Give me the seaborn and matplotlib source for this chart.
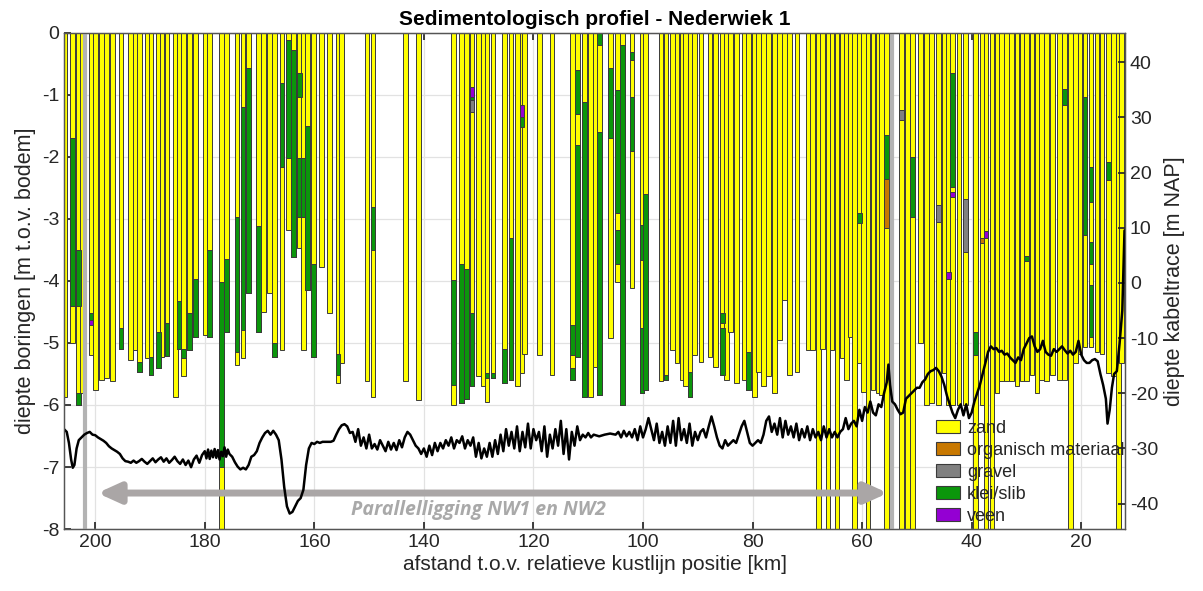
import numpy as np
import pandas as pd
import matplotlib
matplotlib.use("Agg")
import matplotlib.pyplot as plt
import seaborn as sns
from matplotlib.patches import Patch

# ---------------- data ----------------
# boring positions [km] and bottom depth [m t.o.v. bodem]; -9 = reaches beyond plot bottom
boring_km = [205.5, 204.1, 203.0, 202.3, 200.8, 199.9, 198.8, 197.9, 196.8, 195.3,
             193.6, 192.7, 191.9, 190.5, 189.8, 188.4, 187.8, 186.9, 185.4, 184.7,
             183.9, 182.8, 181.7, 179.9, 179.1, 176.9, 176.0, 174.1, 173.0, 172.0,
             170.2, 169.3, 168.2, 167.3, 165.9, 164.7, 163.8, 162.7, 162.0, 161.2,
             160.2, 158.7, 157.2, 155.7, 155.0, 150.4, 149.3, 143.4, 141.0, 134.6,
             133.1, 132.2, 131.2, 130.0, 129.1, 128.5, 127.4, 125.3, 124.1, 122.9,
             122.1, 121.6, 118.9, 116.6, 112.9, 111.9, 110.7, 109.6, 108.7, 107.9,
             105.9, 104.7, 103.7, 102.0, 100.2, 99.5, 96.7, 95.8, 94.6, 93.8,
             92.9, 92.2, 91.4, 90.6, 89.4, 87.8, 86.8, 85.5, 84.7, 84.0,
             82.9, 81.5, 80.7, 79.6, 78.9, 78.0, 77.1, 76.0, 75.1, 74.2,
             73.3, 71.9, 69.8, 69.0, 68.0, 67.2, 66.2, 65.5, 64.6, 63.7,
             62.8, 62.1, 61.4, 60.5, 59.8, 58.9, 58.0, 57.1, 56.5, 55.6,
             52.8, 51.7, 50.8, 49.3, 48.2, 47.3, 46.0, 44.9, 44.2, 43.5,
             42.3, 41.1, 39.3, 38.1, 37.4, 36.3, 35.4, 34.5, 33.6, 32.7,
             31.7, 30.8, 30.0, 29.0, 28.1, 27.2, 26.3, 25.2, 24.0, 23.1,
             22.0, 21.1, 20.2, 19.3, 18.2, 17.1, 16.2, 15.0, 14.1, 13.2,
             12.6]
boring_depth = [-5.87, -5.0, -6.0, -5.81, -5.19, -5.76, -5.6, -5.57, -5.62, -5.09,
                -5.27, -5.11, -5.46, -5.25, -5.52, -5.41, -5.22, -5.21, -5.87, -5.09,
                -5.54, -5.11, -4.9, -4.87, -4.9, -9.0, -4.82, -5.36, -5.25, -4.2,
                -4.82, -4.5, -4.2, -5.22, -5.11, -3.18, -3.61, -3.47, -5.11, -4.15,
                -5.22, -3.77, -4.52, -5.65, -5.33, -5.62, -5.87, -5.62, -5.92, -6.0,
                -5.97, -5.9, -5.7, -5.54, -5.7, -5.95, -5.57, -5.65, -5.6, -5.7,
                -5.49, -5.17, -5.19, -5.52, -5.6, -5.22, -5.87, -5.87, -5.38, -5.84,
                -4.92, -4.01, -6.0, -4.12, -5.81, -5.76, -5.62, -5.6, -5.11, -5.33,
                -5.6, -5.7, -5.87, -5.2, -5.3, -5.22, -5.38, -5.52, -5.6, -4.82,
                -5.65, -5.6, -5.76, -5.87, -5.46, -5.7, -5.54, -5.81, -4.95, -4.31,
                -5.52, -5.46, -5.11, -5.11, -9.0, -5.1, -9.0, -5.11, -9.0, -5.25,
                -5.6, -4.9, -9.0, -5.33, -5.79, -9.0, -5.76, -5.81, -5.84, -9.0,
                -9.0, -9.0, -9.0, -5.0, -6.0, -5.97, -6.0, -5.49, -6.0, -6.0,
                -6.0, -6.0, -9.0, -6.0, -9.0, -9.0, -5.81, -5.62, -5.62, -5.62,
                -5.7, -5.62, -5.62, -5.51, -5.81, -5.6, -5.62, -5.51, -5.6, -5.6,
                -9.0, -5.33, -5.17, -5.06, -5.06, -5.14, -5.17, -5.49, -5.54, -9.0,
                -5.33]

# klei/slib intervals: km, top, bottom
klei_km = [204.1, 203.0, 203.0, 200.8, 195.3, 191.9, 189.8, 188.4, 186.9, 184.7,
           183.9, 182.8, 181.7, 179.1, 176.9, 176.0, 174.1, 173.0, 172.0, 170.2,
           167.3, 165.9, 164.7, 163.8, 162.7, 162.7, 162.0, 161.2, 160.2, 155.7,
           149.3, 134.6, 133.1, 132.2, 131.2, 131.2, 128.5, 127.4, 125.3, 124.1,
           122.1, 112.9, 112.9, 111.9, 111.9, 110.7, 107.9, 107.9, 105.9, 104.7,
           104.7, 103.7, 102.0, 102.0, 100.2, 100.2, 99.5, 95.8, 91.4, 85.5,
           85.5, 80.7, 60.5, 55.6, 50.8, 43.5, 39.3, 30.0, 23.1, 19.3,
           18.2, 18.2, 18.2, 15.0]
klei_top = [-1.70, -3.50, -5.81, -4.52, -4.76, -5.30, -5.22, -4.82, -4.68, -4.33,
            -5.09, -4.52, -3.96, -3.50, -4.01, -3.64, -2.96, -1.19, -0.57, -3.12,
            -5.00, -0.81, -0.11, -0.27, -0.65, -2.02, -2.02, -1.50, -3.72, -5.17,
            -2.80, -3.98, -3.72, -3.80, -1.03, -4.52, -5.49, -5.49, -5.09, -3.31,
            -1.35, -4.71, -5.41, -0.60, -1.81, -1.11, 0.0, -1.60, -0.57, -0.92,
            -3.18, -0.20, -0.30, -1.03, -3.10, -4.76, -2.60, -5.52, -5.46, -4.52,
            -4.76, -5.14, -2.90, -1.65, -2.00, -0.65, -4.82, -3.60, -0.90, -1.03,
            -2.16, -3.37, -4.07, -2.08]
klei_bot = [-4.41, -4.41, -6.00, -4.63, -5.09, -5.46, -5.52, -5.41, -5.21, -5.09,
            -5.25, -5.11, -4.90, -4.90, -7.00, -4.82, -5.14, -4.79, -4.20, -4.82,
            -5.22, -2.16, -2.02, -3.61, -1.03, -2.96, -2.96, -4.15, -5.22, -5.52,
            -3.50, -5.68, -5.97, -5.90, -1.08, -5.70, -5.57, -5.57, -5.65, -5.60,
            -1.51, -5.19, -5.60, -1.30, -5.22, -5.87, -0.20, -5.84, -1.70, -2.90,
            -3.72, -6.00, -0.43, -1.90, -3.66, -5.81, -5.76, -5.60, -5.87, -4.68,
            -5.52, -5.76, -3.06, -2.35, -2.97, -2.48, -5.19, -3.68, -1.16, -3.26,
            -2.72, -3.72, -4.90, -2.37]

veen_km = [200.8, 131.2, 122.1, 44.2, 43.5, 37.4]
veen_top = [-4.63, -0.87, -1.16, -3.85, -2.56, -3.20]
veen_bot = [-4.71, -1.03, -1.35, -3.96, -2.64, -3.31]

gravel_km = [131.2, 52.8, 46.0, 41.1]
gravel_top = [-1.08, -1.25, -2.78, -2.67]
gravel_bot = [-1.27, -1.41, -3.05, -3.53]

org_km = [55.6, 38.1]
org_top = [-2.35, -3.31]
org_bot = [-3.15, -3.39]

# cable trace depth [m NAP]
trace_km = [205.7, 205.2, 204.8, 204.4, 204.1, 203.8, 203.4, 203.0, 202.5, 202.0,
            201.5, 201.0, 200.5, 200.0, 199.5, 199.0, 198.5, 198.0, 197.5, 197.0,
            196.5, 196.0, 195.5, 195.0, 194.5, 194.0, 193.5, 193.0, 192.5, 192.0,
            191.5, 191.0, 190.5, 190.0, 189.5, 189.0, 188.5, 188.0, 187.5, 187.0,
            186.5, 186.0, 185.5, 185.0, 184.5, 184.0, 183.5, 183.0, 182.5, 182.0,
            181.5, 181.0, 180.5, 180.0, 179.7, 179.4, 179.1, 178.8, 178.5, 178.2,
            177.9, 177.6, 177.3, 177.0, 176.7, 176.4, 176.1, 175.8, 175.5, 175.0,
            174.5, 174.0, 173.5, 173.0, 172.5, 172.0, 171.5, 171.0, 170.5, 170.0,
            169.5, 169.0, 168.5, 168.0, 167.5, 167.0, 166.5, 166.0, 165.5, 165.0,
            164.5, 164.0, 163.5, 163.0, 162.5, 162.0, 161.5, 161.0, 160.5, 160.0,
            159.5, 159.0, 158.5, 158.0, 157.0, 156.5, 156.0, 155.5, 155.0, 154.5,
            154.0, 153.5, 153.0, 152.5, 152.0, 151.5, 151.0, 150.5, 150.0, 149.5,
            149.0, 148.5, 148.0, 147.5, 147.0, 146.5, 146.0, 145.5, 145.0, 144.5,
            144.0, 143.5, 143.0, 142.5, 142.0, 141.5, 141.0, 140.5, 140.0, 139.5,
            139.0, 138.5, 138.0, 137.5, 137.0, 136.5, 136.0, 135.5, 135.0, 134.5,
            134.0, 133.5, 133.0, 132.5, 132.0, 131.5, 131.0, 130.5, 130.0, 129.5,
            129.0, 128.5, 128.0, 127.5, 127.0, 126.5, 126.0, 125.5, 125.0, 124.5,
            124.0, 123.5, 123.0, 122.5, 122.0, 121.5, 121.0, 120.5, 120.0, 119.5,
            119.0, 118.5, 118.0, 117.5, 117.0, 116.5, 116.0, 115.5, 115.0, 114.5,
            114.0, 113.5, 113.0, 112.5, 112.0, 111.5, 111.0, 110.5, 110.0, 109.5,
            109.0, 108.0, 107.0, 106.0, 105.0, 104.5, 104.0, 103.5, 103.0, 102.5,
            102.0, 101.5, 101.0, 100.5, 100.0, 99.5, 99.0, 98.5, 98.0, 97.5,
            97.0, 96.5, 96.0, 95.5, 95.0, 94.5, 94.0, 93.5, 93.0, 92.5,
            92.0, 91.5, 91.0, 90.5, 90.0, 89.5, 89.0, 88.5, 88.0, 87.5,
            87.0, 86.5, 86.0, 85.5, 85.0, 84.5, 84.0, 83.5, 83.0, 82.5,
            82.0, 81.5, 81.0, 80.5, 80.0, 79.5, 79.0, 78.5, 78.0, 77.5,
            77.0, 76.5, 76.0, 75.5, 75.0, 74.5, 74.0, 73.5, 73.0, 72.5,
            72.0, 71.5, 71.0, 70.5, 70.0, 69.5, 69.0, 68.5, 68.0, 67.5,
            67.0, 66.5, 66.0, 65.5, 65.0, 64.5, 64.0, 63.5, 63.0, 62.5,
            62.0, 61.5, 61.0, 60.5, 60.0, 59.5, 59.0, 58.5, 58.0, 57.5,
            57.0, 56.5, 56.0, 55.5, 55.2, 54.9, 54.5, 54.0, 53.5, 53.0,
            52.5, 52.0, 51.5, 51.0, 50.5, 50.0, 49.5, 49.0, 48.5, 48.0,
            47.5, 47.0, 46.5, 46.0, 45.5, 45.0, 44.5, 44.0, 43.5, 43.0,
            42.5, 42.0, 41.5, 41.0, 40.5, 40.0, 39.5, 39.0, 38.5, 38.0,
            37.5, 37.0, 36.5, 36.0, 35.5, 35.0, 34.5, 34.0, 33.5, 33.0,
            32.5, 32.0, 31.5, 31.0, 30.5, 30.0, 29.5, 29.0, 28.5, 28.0,
            27.5, 27.0, 26.5, 26.0, 25.5, 25.0, 24.5, 24.0, 23.5, 23.0,
            22.5, 22.0, 21.5, 21.0, 20.5, 20.0, 19.5, 19.0, 18.5, 18.0,
            17.5, 17.0, 16.5, 16.0, 15.5, 15.2, 14.8, 14.4, 14.0, 13.5,
            13.0, 12.5, 12.1]
trace_nap = [-26.5, -27.0, -29.0, -32.0, -33.5, -33.0, -30.0, -28.5, -28.0, -27.5,
             -27.2, -27.0, -27.5, -27.6, -28.0, -28.3, -28.6, -29.0, -29.6, -30.0,
             -30.3, -30.6, -31.0, -31.8, -32.3, -32.4, -32.6, -32.2, -32.6, -32.3,
             -31.9, -32.4, -32.8, -32.3, -31.8, -32.5, -32.0, -31.6, -32.4, -31.8,
             -32.6, -32.1, -31.5, -32.3, -32.8, -32.0, -33.0, -32.2, -33.4, -32.0,
             -31.3, -32.6, -31.2, -30.5, -31.8, -30.2, -31.9, -30.4, -31.6, -30.1,
             -31.7, -30.3, -32.0, -30.6, -31.4, -29.8, -31.5, -30.2, -31.0, -31.5,
             -32.5, -33.3, -33.8, -33.5, -33.8, -33.0, -31.5, -31.2, -30.5, -29.0,
             -28.0, -27.2, -26.8, -27.5, -26.8, -27.5, -28.5, -32.0, -37.0, -40.5,
             -41.8, -41.5, -40.5, -39.5, -39.0, -37.5, -33.0, -30.0, -29.0, -29.2,
             -28.8, -29.0, -28.8, -28.8, -28.8, -28.6, -27.5, -26.5, -25.8, -25.6,
             -26.0, -27.2, -27.0, -28.8, -26.5, -29.5, -28.0, -30.0, -27.5, -30.0,
             -29.2, -30.2, -28.5, -29.5, -30.5, -28.8, -30.2, -29.0, -30.3, -28.5,
             -29.8, -28.0, -27.0, -27.5, -28.5, -29.5, -30.0, -31.0, -30.0, -31.5,
             -29.5, -31.2, -29.0, -30.5, -29.0, -30.0, -28.5, -29.5, -28.0, -30.0,
             -28.5, -29.0, -27.8, -30.0, -28.5, -29.5, -28.0, -31.5, -29.0, -31.8,
             -30.0, -31.5, -29.0, -31.5, -28.5, -31.0, -27.5, -30.5, -26.5, -29.5,
             -27.0, -30.0, -26.0, -30.5, -27.0, -29.8, -25.5, -30.0, -26.5, -28.5,
             -27.0, -30.5, -26.0, -31.5, -27.5, -30.0, -26.5, -29.5, -25.0, -31.0,
             -26.5, -32.0, -27.0, -29.5, -26.0, -28.5, -27.5, -28.0, -27.2, -28.0,
             -27.5, -27.8, -27.5, -27.3, -27.5, -27.0, -28.0, -26.8, -27.8, -27.0,
             -28.0, -26.5, -28.5, -26.0, -28.0, -26.5, -24.5, -26.5, -28.5, -25.5,
             -29.0, -27.0, -29.5, -26.0, -29.0, -25.0, -29.5, -24.5, -28.5, -26.5,
             -29.0, -25.5, -29.5, -27.0, -28.5, -27.0, -26.5, -28.0, -26.0, -24.2,
             -26.0, -28.0, -29.5, -30.0, -28.5, -29.5, -29.0, -28.5, -29.0, -27.5,
             -26.0, -25.0, -27.0, -29.0, -29.5, -29.0, -28.5, -29.0, -27.5, -25.0,
             -24.2, -27.0, -25.5, -27.5, -24.5, -28.0, -25.0, -27.5, -26.0, -28.0,
             -25.5, -28.5, -26.5, -28.0, -26.0, -28.5, -26.5, -28.0, -27.0, -28.5,
             -26.0, -28.0, -26.5, -28.0, -27.0, -28.0, -27.0, -26.5, -24.5, -26.5,
             -25.5, -25.0, -26.0, -23.0, -25.0, -22.5, -23.5, -21.5, -23.5, -24.0,
             -22.0, -22.5, -20.0, -18.0, -14.8, -18.5, -21.5, -22.0, -23.0, -23.8,
             -23.5, -21.0, -20.5, -20.0, -19.5, -19.0, -19.0, -18.0, -17.5, -16.5,
             -16.0, -15.8, -15.4, -16.0, -17.0, -18.5, -20.5, -22.0, -23.5, -24.5,
             -23.0, -22.0, -24.0, -22.0, -24.5, -23.5, -21.5, -20.0, -18.5, -16.5,
             -14.5, -12.5, -11.5, -12.0, -11.8, -12.5, -12.3, -13.0, -12.8, -13.5,
             -14.0, -14.5, -13.5, -14.0, -12.0, -11.0, -10.0, -9.7, -11.5, -12.5,
             -12.0, -10.5, -12.5, -13.0, -13.2, -12.0, -12.5, -12.0, -11.5, -12.2,
             -12.8, -12.3, -13.0, -12.5, -10.5, -13.0, -14.0, -14.5, -14.5, -14.0,
             -13.8, -14.2, -16.5, -18.5, -21.0, -25.5, -23.0, -19.0, -16.5, -16.0,
             -11.0, -5.0, 9.5]

legend_labels = ["zand", "organisch materiaal", "gravel", "klei/slib", "veen"]
ytick_left = [0, -1, -2, -3, -4, -5, -6, -7, -8]
ytick_right = [40, 30, 20, 10, 0, -10, -20, -30, -40]
xtick_km = [200, 180, 160, 140, 120, 100, 80, 60, 40, 20]

# ---------------- style ----------------
sns.set_theme(style="white")
plt.rcParams["font.family"] = ["Liberation Sans", "DejaVu Sans"]
plt.rcParams["axes.unicode_minus"] = False

C_ZAND = "#ffff00"
C_ORG = "#c87800"
C_GRAV = "#808080"
C_KLEI = "#0b960b"
C_VEEN = "#9400d3"
EDGE = "#3a3a3a"
BW = 0.85
TXT = "#262626"

fig = plt.figure(figsize=(12.03, 5.91), dpi=100)
ax = fig.add_axes([0.0532, 0.1049, 0.8820, 0.8393])

ax.grid(True, color="#e2e2e2", linewidth=0.9)
ax.set_axisbelow(True)

# base sand column per boring
ax.bar(boring_km, boring_depth, width=BW, bottom=0, color=C_ZAND,
       edgecolor=EDGE, linewidth=0.7, zorder=2)
# other layers
for kms, tops, bots, col in [(klei_km, klei_top, klei_bot, C_KLEI),
                             (veen_km, veen_top, veen_bot, C_VEEN),
                             (gravel_km, gravel_top, gravel_bot, C_GRAV),
                             (org_km, org_top, org_bot, C_ORG)]:
    ax.bar(kms, np.subtract(bots, tops), width=BW, bottom=tops, color=col,
           edgecolor=EDGE, linewidth=0.7, zorder=2.5)

# parallel section markers
for xv in (201.8, 54.5):
    ax.axvline(xv, color="#b3b3b3", linewidth=3, zorder=3)
ax.annotate("", xy=(199.6, -7.42), xytext=(55.3, -7.42),
            arrowprops=dict(arrowstyle="<|-|>,head_length=1.1,head_width=0.5",
                            color="#aaa6a6", lw=5, shrinkA=0, shrinkB=0),
            zorder=4)
ax.text(130.1, -7.69, "Parallelligging NW1 en NW2", ha="center", va="center",
        fontsize=14, fontweight="bold", fontstyle="italic", color="#a9a9a9",
        family=["Open Sans", "DejaVu Sans"], zorder=4)

ax.set_xlim(205.7, 12.0)
ax.set_ylim(-8, 0)
ax.set_xticks(xtick_km)
ax.set_yticks(ytick_left)
ax.set_xlabel("afstand t.o.v. relatieve kustlijn positie [km]", fontsize=15,
              color=TXT, labelpad=3)
ax.set_ylabel("diepte boringen [m t.o.v. bodem]", fontsize=15.5, color=TXT)
ax.set_title("Sedimentologisch profiel - Nederwiek 1", fontsize=15,
             fontweight="bold", color="black", pad=6)
ax.tick_params(axis="both", direction="in", length=5, labelsize=14,
               colors=TXT, top=True, bottom=True, left=True, right=False)

ax2 = ax.twinx()
trace = pd.DataFrame({"km": trace_km, "nap": trace_nap})
sns.lineplot(data=trace, x="km", y="nap", ax=ax2, sort=False, estimator=None,
             color="black", linewidth=1.8)
ax2.set_ylim(-44.6, 45.3)
ax2.set_yticks(ytick_right)
ax2.set_ylabel("diepte kabeltrace [m NAP]", fontsize=15.5, color=TXT)
ax2.set_xlabel("")
ax2.tick_params(axis="y", direction="in", length=5, labelsize=14,
                colors=TXT, right=True, left=False)
ax2.set_xlim(205.7, 12.0)

for a in (ax, ax2):
    for s in a.spines.values():
        s.set_color("#555555")
        s.set_linewidth(0.9)

handles = [Patch(facecolor=c, edgecolor=EDGE, linewidth=0.8, label=l)
           for c, l in zip([C_ZAND, C_ORG, C_GRAV, C_KLEI, C_VEEN], legend_labels)]
leg = ax2.legend(handles=handles, loc="upper left", bbox_to_anchor=(0.8215, 0.22),
                 frameon=False, fontsize=13, handlelength=1.35, handleheight=0.7,
                 labelspacing=0.28, handletextpad=0.4, borderaxespad=0, borderpad=0)

fig.savefig("out.png", dpi=100)
